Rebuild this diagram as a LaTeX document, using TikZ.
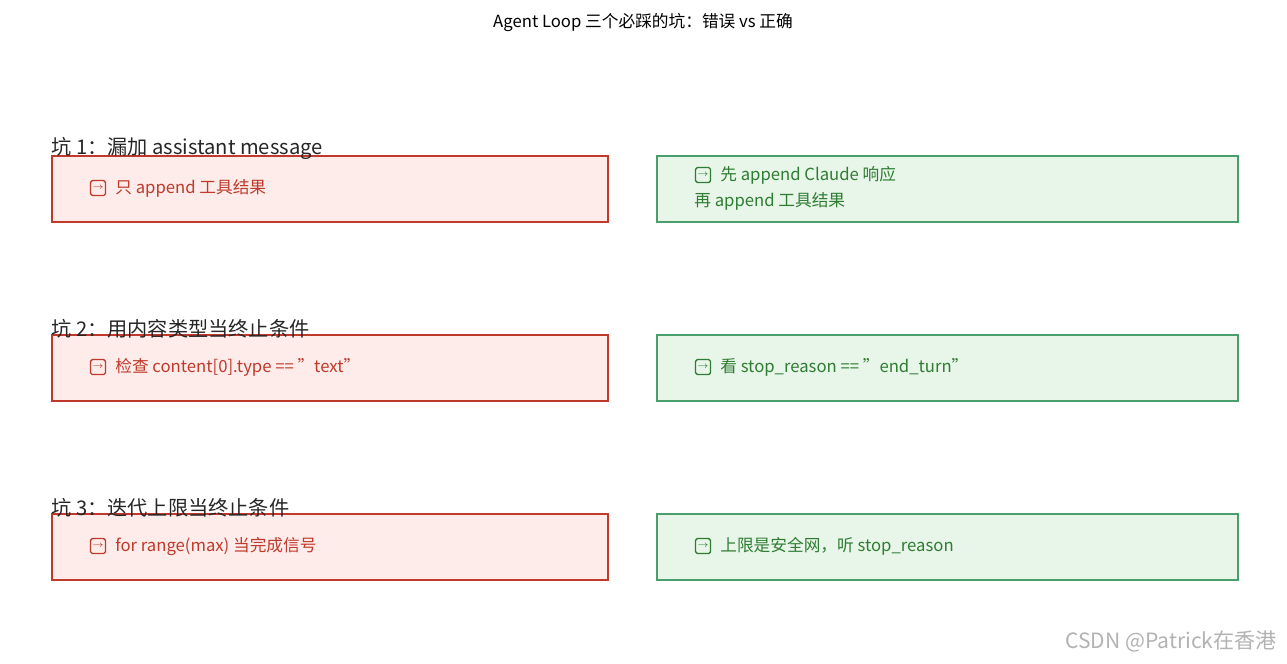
\documentclass[tikz,border=0pt]{standalone}
\usepackage{fontspec}
\setmainfont{Noto Sans CJK SC}
\usetikzlibrary{positioning}
\definecolor{badline}{HTML}{C0392B}
\definecolor{badfill}{HTML}{FDECEA}
\definecolor{goodline}{HTML}{4A9E6B}
\definecolor{goodfill}{HTML}{E8F5E9}
\definecolor{goodtext}{HTML}{2E7D32}
\tikzset{
  bad/.style={draw=badline, fill=badfill, line width=1.2pt, minimum width=11.12cm, minimum height=1.32cm, anchor=north west},
  good/.style={draw=goodline, fill=goodfill, line width=1.2pt, minimum width=11.62cm, minimum height=1.32cm, anchor=north west},
  icon/.style={draw, line width=0.8pt, rounded corners=1pt, minimum size=0.3cm, inner sep=0pt, font=\fontsize{5}{5}\selectfont},
  label/.style={anchor=west, inner sep=0pt, font=\fontsize{9.5}{14}\selectfont, align=left},
  pit/.style={anchor=south west, inner sep=0pt, font=\fontsize{11.5}{12}\selectfont, text=black!85}
}
\begin{document}
\begin{tikzpicture}[x=0.02cm, y=-0.02cm]
  \useasboundingbox (0,0) rectangle (1287,663);
  \node[font=\fontsize{9.5}{10}\selectfont] (title) at (643,22) {Agent Loop 三个必踩的坑：错误 vs 正确};
  % row 1
  \node[bad] (bad1) at (51,155) {};
  \node[good] (good1) at (656,155) {};
  \node[pit] (pit1) at (51,160) {坑 1：漏加 assistant message};
  \node[icon, text=badline, draw=badline] (bi1) at (98,188) {$\rightarrow$};
  \node[label, text=badline, right=5pt of bi1] (bt1) {只 append 工具结果};
  \node[icon, text=goodtext, draw=goodtext] (gi1) at (703,175) {$\rightarrow$};
  \node[label, text=goodtext, right=5pt of gi1] (gt1) {先 append Claude 响应};
  \node[label, text=goodtext] (gt1b) at (694,201) {再 append 工具结果};
  % row 2
  \node[bad] (bad2) at (51,334) {};
  \node[good] (good2) at (656,334) {};
  \node[pit] (pit2) at (51,339) {坑 2：用内容类型当终止条件};
  \node[icon, text=badline, draw=badline] (bi2) at (98,367) {$\rightarrow$};
  \node[label, text=badline, right=5pt of bi2] (bt2) {检查 content[0].type == "text"};
  \node[icon, text=goodtext, draw=goodtext] (gi2) at (703,367) {$\rightarrow$};
  \node[label, text=goodtext, right=5pt of gi2] (gt2) {看 stop\_reason == "end\_turn"};
  % row 3
  \node[bad] (bad3) at (51,513) {};
  \node[good] (good3) at (656,513) {};
  \node[pit] (pit3) at (51,518) {坑 3：迭代上限当终止条件};
  \node[icon, text=badline, draw=badline] (bi3) at (98,546) {$\rightarrow$};
  \node[label, text=badline, right=5pt of bi3] (bt3) {for range(max) 当完成信号};
  \node[icon, text=goodtext, draw=goodtext] (gi3) at (703,546) {$\rightarrow$};
  \node[label, text=goodtext, right=5pt of gi3] (gt3) {上限是安全网，听 stop\_reason};
  % watermark
  \node[anchor=east, text=black!30, font=\fontsize{12}{12}\selectfont] (mark) at (1283,641) {CSDN @Patrick在香港};
\end{tikzpicture}
\end{document}
